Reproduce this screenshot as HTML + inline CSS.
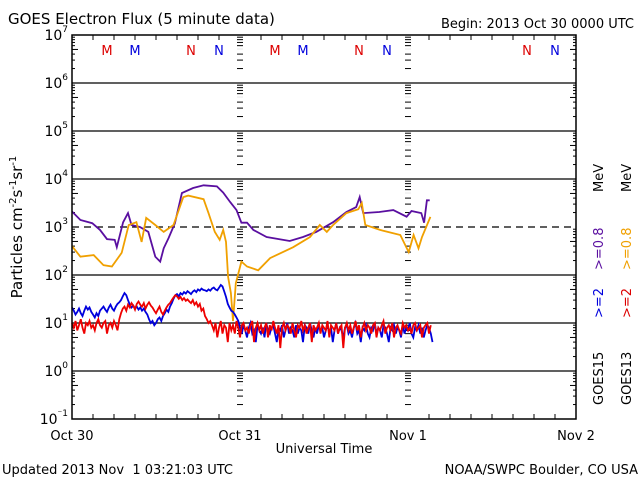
<!DOCTYPE html>
<html><head><meta charset="utf-8"><style>
html,body{margin:0;padding:0;background:#fff;}
svg{display:block;font-family:"DejaVu Sans","Liberation Sans",sans-serif;}
</style></head><body>
<svg id="chart" width="640" height="480" viewBox="0 0 640 480" xmlns="http://www.w3.org/2000/svg">
<rect width="640" height="480" fill="#fff"/>
<text x="8" y="24" font-size="15">GOES Electron Flux (5 minute data)</text>
<text x="634" y="28" font-size="13" text-anchor="end">Begin: 2013 Oct 30 0000 UTC</text>
<text x="2" y="474" font-size="13">Updated 2013 Nov&#160; 1 03:21:03 UTC</text>
<text x="638" y="474" font-size="13" text-anchor="end">NOAA/SWPC Boulder, CO USA</text>
<text x="324" y="453" font-size="13" text-anchor="middle">Universal Time</text>
<text transform="translate(22,227) rotate(-90)" font-size="15" text-anchor="middle">Particles cm<tspan font-size="10" dy="-6">-2</tspan><tspan dy="6">s</tspan><tspan font-size="10" dy="-6">-1</tspan><tspan dy="6">sr</tspan><tspan font-size="10" dy="-6">-1</tspan></text>
<g id="plot"></g>
<g font-size="13">
<text transform="translate(603,405) rotate(-90)">GOES15</text>
<text transform="translate(603,318) rotate(-90)" fill="#0000dd">&gt;=2</text>
<text transform="translate(603,270) rotate(-90)" fill="#5a0fa0">&gt;=0.8</text>
<text transform="translate(603,192) rotate(-90)">MeV</text>
<text transform="translate(631,405) rotate(-90)">GOES13</text>
<text transform="translate(631,318) rotate(-90)" fill="#dd0000">&gt;=2</text>
<text transform="translate(631,270) rotate(-90)" fill="#f0a000">&gt;=0.8</text>
<text transform="translate(631,192) rotate(-90)">MeV</text>
</g>
</svg>
<script>
// ---- data ----
const dayLabels = ["Oct 30","Oct 31","Nov 1","Nov 2"];
const decadeExps = [-1,0,1,2,3,4,5,6,7];
const purpleHours = [0,1.2,2.9,4.0,5.0,6.1,6.4,7.3,8.0,8.5,9.7,10.9,11.9,12.6,13.1,13.8,14.7,15.7,17.3,18.8,20.7,21.6,22.6,23.5,24.2,25.0,25.9,27.8,31.1,33.0,34.9,37.3,39.2,40.6,41.1,41.6,43.9,45.9,47.8,48.5,49.9,50.3,50.7,51.1];
const purpleValues = [2100,1400,1200,870,560,540,380,1250,1950,1100,1000,790,240,190,360,590,1200,5100,6500,7400,7000,5200,3300,2250,1230,1230,870,620,510,620,790,1260,2050,2600,4200,1950,2050,2250,1640,2150,1950,1230,3600,3600];
const orangeHours = [0,1.2,3.1,4.5,5.7,7.1,8.1,9.2,9.95,10.6,11.9,13.1,14.5,15.9,16.6,18.8,19.5,20.4,21.1,21.6,22.0,22.3,22.7,23.0,23.4,24.2,25.0,26.6,28.3,31.6,34.0,35.4,36.4,37.3,39.2,40.9,41.4,41.9,44.0,46.9,48.1,48.8,49.5,50.0,51.2];
const orangeValues = [400,240,260,160,150,290,1100,1260,490,1550,1100,790,1100,4200,4500,3800,1950,790,540,870,490,91,42,11,67,190,150,125,225,380,620,1100,790,1100,1950,2350,3150,1100,870,680,300,680,360,620,1620];
const blueStepHours = 0.25;
const blueValues = [21,18,15,17,20,16,14,18,22,19,21,17,15,13,16,14,18,20,22,19,17,21,24,20,18,22,25,27,
30,36,42,38,30,24,21,23,20,22,19,21,18,20,17,15,12,10,11,9,10,12,13,11,14,16,19,17,
22,26,32,38,40,36,42,39,44,41,46,43,40,45,48,44,50,47,52,49,48,46,50,47,52,55,50,48,54,62,58,45,35,25,21,18,17,15,13,11,
8,6,9,7,5,8,10,6,7,4,
9,7,6,8,5,10,7,6,8,9,
6,4,8,7,9,5,7,10,6,8,
7,5,9,6,8,7,4,9,8,6,
10,7,5,8,6,9,7,8,5,7,
9,6,8,4,7,10,6,8,7,5,
8,9,6,7,5,8,10,6,7,4,
8,7,9,6,5,8,7,10,6,8,
7,5,9,8,6,4,8,7,9,6,
8,7,5,9,6,8,7,10,6,5,
8,7,9,6,8,5,7,9,8,6,4];
const redStepHours = 0.25;
const redValues = [10,8,11,7,9,12,8,6,10,9,11,8,9,7,10,12,9,8,10,11,6,9,10,8,11,9,7,12,
16,20,22,18,24,21,26,23,19,25,28,24,22,26,20,24,27,23,21,18,16,19,22,17,15,18,21,24,26,30,34,38,36,32,35,30,33,29,31,28,26,30,24,27,22,25,18,20,14,12,10,11,
9,7,10,5,8,11,6,9,8,4,
10,7,9,6,11,8,5,9,10,7,
8,6,9,11,4,8,10,7,9,6,
8,10,5,9,7,11,8,6,9,3,
8,10,7,9,8,6,10,7,5,9,
8,11,7,9,6,8,10,4,9,7,
8,10,6,9,8,7,11,5,9,8,
7,10,6,8,9,3,8,10,7,9,
6,8,11,7,9,5,8,10,7,9,
8,6,9,10,5,8,7,9,11,6,
8,9,7,10,5,8,9,7,6,10,
8,9,7,8,6,9,10,7,8,9,
5,8,9,10,6,9];
const markerLetters = ["M","M","N","N","M","M","N","N","N","N"];
const markerHours = [5,9,17,21,29,33,41,45,65,69];
const markerColors = ["#dd0000","#0000dd","#dd0000","#0000dd","#dd0000","#0000dd","#dd0000","#0000dd","#dd0000","#0000dd"];

// ---- axes ----
const L=72,R=576,T=35,B=419,pxPerHour=(R-L)/72,pxPerDecade=(B-T)/8;
function xh(h){return L+h*pxPerHour;}
function yv(v){return T+(7-Math.log10(v))*pxPerDecade;}
const NS="http://www.w3.org/2000/svg";
const plot=document.getElementById('plot');
function mk(tag,attrs,parent){const e=document.createElementNS(NS,tag);for(const k in attrs)e.setAttribute(k,attrs[k]);(parent||plot).appendChild(e);return e;}

decadeExps.forEach(function(ex){
  const y=yv(Math.pow(10,ex));
  if(ex>-1&&ex<7){const g=mk('line',{x1:L,x2:R,y1:y,y2:y,stroke:'#000','stroke-width':1.3});
    if(ex===3)g.setAttribute('stroke-dasharray','7,5');
    
    }
  const t=mk('text',{x:L-4,y:y+5,'font-size':14,'text-anchor':'end'});
  
  
  t.textContent='10';
  const s=mk('tspan',{'font-size':9,dy:-8},t);s.textContent=String(ex).replace('-','\u207b');
  if(ex<7){for(let m=2;m<=9;m++){const ym=yv(m*Math.pow(10,ex));const len=(m===5)?6:3;
    mk('line',{x1:L,x2:L+len,y1:ym,y2:ym,stroke:'#000'});mk('line',{x1:R,x2:R-len,y1:ym,y2:ym,stroke:'#000'});
    [240,408].forEach(function(xd){mk('line',{x1:xd-3,x2:xd+3,y1:ym,y2:ym,stroke:'#000'});});}
    const ym5=yv(5*Math.pow(10,ex));
    [240,408].forEach(function(xd){mk('line',{x1:xd-3,x2:xd+3,y1:ym5,y2:ym5,stroke:'#fff'});});}
});
for(let h=0;h<=72;h+=3){const x=xh(h);const len=(h%24===0)?0:5;
  mk('line',{x1:x,x2:x,y1:B,y2:B-len,stroke:'#000'});mk('line',{x1:x,x2:x,y1:T,y2:T+len,stroke:'#000'});}
dayLabels.forEach(function(d,i){const t=mk('text',{x:xh(i*24),y:440,'font-size':13,'text-anchor':'middle'});
  
  
  t.textContent=d;});
markerLetters.forEach(function(l,i){const t=mk('text',{x:xh(markerHours[i]),y:55,'font-size':13,'text-anchor':'middle',fill:markerColors[i]});
  
  
  t.textContent=l;});

function pathFrom(hours,vals){return vals.map(function(v,i){return (i?'L':'M')+xh(hours[i]).toFixed(1)+','+yv(v).toFixed(1);}).join('');}
function stepHours(n,s){const a=[];for(let i=0;i<n;i++)a.push(i*s);return a;}
const p1=mk('path',{d:pathFrom(purpleHours,purpleValues),fill:'none',stroke:'#5a0fa0','stroke-width':1.8});


const p2=mk('path',{d:pathFrom(orangeHours,orangeValues),fill:'none',stroke:'#f0a000','stroke-width':1.8});


const p3=mk('path',{d:pathFrom(stepHours(blueValues.length,blueStepHours),blueValues),fill:'none',stroke:'#0000dd','stroke-width':1.8});


const p4=mk('path',{d:pathFrom(stepHours(redValues.length,redStepHours),redValues),fill:'none',stroke:'#ee0000','stroke-width':1.8});


const fr=mk('rect',{x:L,y:T,width:R-L,height:B-T,fill:'none',stroke:'#000','stroke-width':1.5});


</script>
</body></html>
